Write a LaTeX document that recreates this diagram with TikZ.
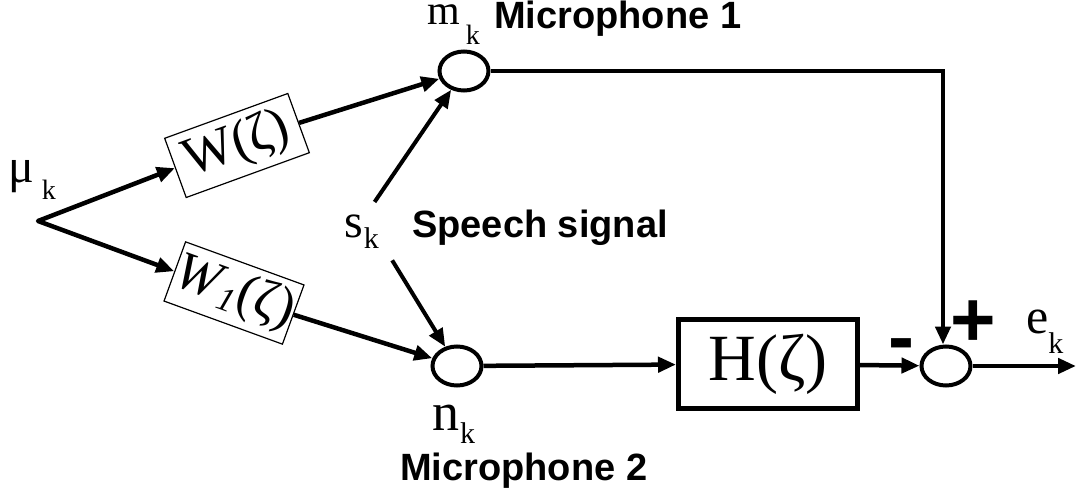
\documentclass[tikz,border=0pt]{standalone}
\usepackage{fontspec}
\setmainfont{Liberation Serif}
\newfontfamily\lsb{Liberation Sans}
\usetikzlibrary{arrows.meta,shapes.geometric}
\begin{document}
\begin{tikzpicture}[x=1pt,y=1pt,
  tip/.tip={Triangle[length=18pt,width=15pt]},
  sig/.style={line width=4.5pt,-tip},
  junc/.style={draw,line width=4pt,ellipse,minimum width=49pt,minimum height=39pt,inner sep=0pt},
  wbox/.style={draw,line width=1.2pt,minimum width=131pt,minimum height=63pt,inner sep=0pt},
  lab/.style={anchor=base west,inner sep=0pt},
  boldlab/.style={anchor=base west,inner sep=0pt,font=\fontsize{38}{38}\selectfont\lsb\bfseries},
  sign/.style={inner sep=0pt,font=\fontsize{78}{78}\selectfont\lsb\bfseries},
]
\useasboundingbox (0,0) rectangle (1076,488);

% blocks
\coordinate (split) at (38,267);
\node[wbox,rotate=20] (W) at (237,342.5) {\fontsize{54}{54}\selectfont W(ζ)};
\node[wbox,rotate=-20,minimum width=126pt] (W1) at (234,195)
  {\fontsize{54}{54}\selectfont\textit{W}\raisebox{-7pt}{\fontsize{34}{34}\selectfont\textit{1}}(ζ)};
\node[junc] (m) at (464,417) {};
\node[junc] (n) at (457,122) {};
\node[junc] (sum) at (946,122) {};
\node[draw,line width=5pt,minimum width=179pt,minimum height=89pt,inner sep=0pt] (H) at (768,124)
  {\fontsize{66}{66}\selectfont H(ζ)};
\coordinate (out) at (1076,122);
\coordinate (src) at (365,272);

% labels
\node[lab] (mu) at (8,305) {\fontsize{48}{48}\selectfont μ\hspace{8pt}\raisebox{-17pt}{\fontsize{28}{28}\selectfont k}};
\node[lab] (mk) at (427,463) {\fontsize{42}{42}\selectfont m\hspace{6pt}\raisebox{-20pt}{\fontsize{28}{28}\selectfont k}};
\node[lab] (sk) at (344,251) {\fontsize{48}{48}\selectfont s\hspace{1pt}\raisebox{-11pt}{\fontsize{30}{30}\selectfont k}};
\node[lab] (nk) at (432,58) {\fontsize{54}{54}\selectfont n\hspace{1pt}\raisebox{-13pt}{\fontsize{30}{30}\selectfont k}};
\node[lab] (ek) at (1026,155) {\fontsize{50}{50}\selectfont e\hspace{0pt}\raisebox{-20pt}{\fontsize{30}{30}\selectfont k}};
\node[boldlab] (mic1) at (494,459) {Microphone 1};
\node[boldlab] (speech) at (412,251) {Speech signal};
\node[boldlab] (mic2) at (400,8) {Microphone 2};
\node[sign] (plus) at (973.5,164) {+};
\node[sign] (minus) at (901,137) {-};

% connectors
\draw[line width=4.5pt,line join=round,tip-tip] (W.west) -- (split) -- (W1.west);
\draw[sig] (W.east) -- (m);
\draw[sig] (W1.east) -- (n);
\draw[sig,line width=4pt,shorten <=17pt] (src) -- (m);
\draw[sig,line width=4pt,shorten <=52pt] (src) -- (n);
\draw[sig] (n) -- (H);
\draw[sig] (H) -- (sum);
\draw[sig] (sum) -- (out);
\draw[sig] (m) -| ([xshift=-3pt]sum.north);
\end{tikzpicture}
\end{document}
